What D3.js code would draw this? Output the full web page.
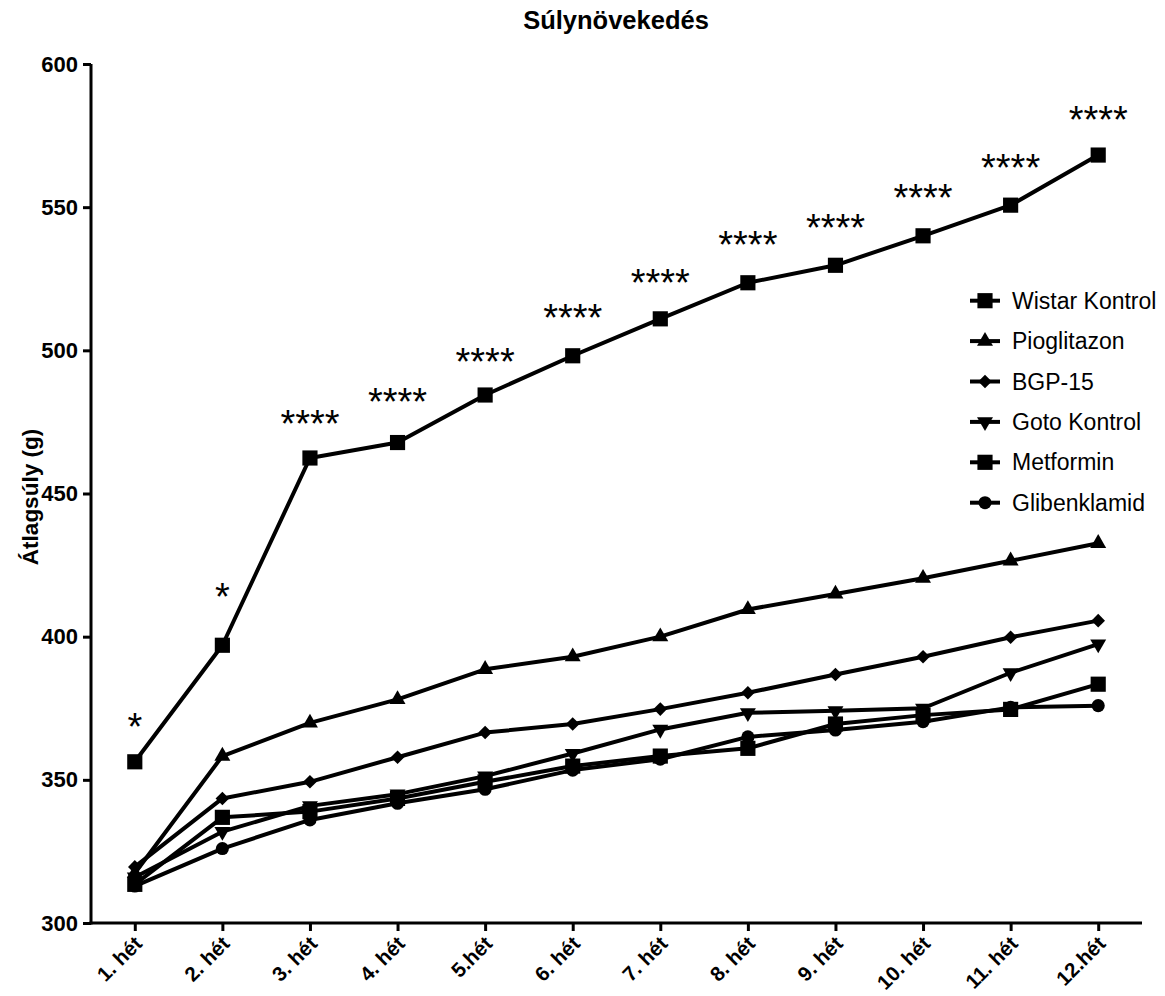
<!DOCTYPE html>
<html>
<head>
<meta charset="utf-8">
<script src="https://cdn.jsdelivr.net/npm/d3@7"></script>
<style>
  html, body { margin: 0; padding: 0; background: #fff; }
  svg { display: block; font-family: "Liberation Sans", Arial, sans-serif; }
</style>
</head>
<body>
<svg id="chart" width="1165" height="996"></svg>
<script>
// ---- data ----
const weeks = ["1. hét","2. hét","3. hét","4. hét","5.hét","6. hét","7. hét","8. hét","9. hét","10. hét","11. hét","12.hét"];
const seriesNames = ["Wistar Kontrol","Pioglitazon","BGP-15","Goto Kontrol","Metformin","Glibenklamid"];
const wistarKontrol = [356.3, 397, 462.4, 467.8, 484.4, 498.1, 511, 523.6, 529.7, 540, 550.7, 568.2];
const pioglitazon   = [317.4, 358.3, 369.9, 378.1, 388.6, 393, 400, 409.5, 414.9, 420.4, 426.5, 432.6];
const bgp15         = [319.6, 343.5, 349.3, 357.9, 366.5, 369.5, 374.7, 380.4, 386.8, 393, 399.8, 405.6];
const gotoKontrol   = [316, 331.9, 340.9, 345, 351.3, 359.2, 367.6, 373.4, 374.1, 375, 387.4, 397.4];
const metformin     = [313.5, 336.9, 338.9, 343.5, 349.3, 354.8, 358.3, 361, 369.5, 372.6, 374.6, 383.4];
const glibenklamid  = [312.9, 326, 336, 341.8, 346.7, 353.4, 357.2, 365, 367.4, 370.3, 375.3, 375.9];
const markerTypes   = ["square","triangle","diamond","triangleDown","square","circle"];
const starLabels    = ["*","*","****","****","****","****","****","****","****","****","****","****"];
const starValues    = [370.2, 415.6, 476, 483.7, 497.6, 513, 525.2, 538.5, 544.4, 554.9, 565.4, 582.1];
const yTicks        = [300, 350, 400, 450, 500, 550, 600];
const chartTitle    = "Súlynövekedés";
const yTitle        = "Átlagsúly (g)";

const allSeries = [wistarKontrol, pioglitazon, bgp15, gotoKontrol, metformin, glibenklamid];

// ---- layout ----
const svg = d3.select("#chart");
const mLeft = 91, mRight = 1142, mTop = 64, mBottom = 923;
const x = d3.scalePoint().domain(weeks).range([mLeft, mRight]).padding(0.5);
const y = d3.scaleLinear().domain([300, 600]).range([mBottom, mTop]);

function markerPath(type) {
  switch (type) {
    case "square": return d3.symbol().type(d3.symbolSquare).size(230)();
    case "triangle": return d3.symbol().type(d3.symbolTriangle).size(110)();
    case "triangleDown": return d3.symbol().type(d3.symbolTriangle).size(110)();
    case "diamond": return d3.symbol().type(d3.symbolSquare).size(92)();
    case "circle": return d3.symbol().type(d3.symbolCircle).size(135)();
  }
}
function markerRot(type) {
  if (type === "triangleDown") return 180;
  if (type === "diamond") return 45;
  return 0;
}

// ---- title ----
svg.append("text")
  .attr("x", 616).attr("y", 29)
  .attr("text-anchor", "middle")
  .attr("font-size", 25.5).attr("font-weight", "bold")
  .text(chartTitle);

// ---- axes ----
const yAxis = svg.append("g")
  .attr("transform", `translate(${mLeft},0)`)
  .call(d3.axisLeft(y).tickValues(yTicks).tickSize(8).tickSizeOuter(0).tickPadding(5));
const xAxis = svg.append("g")
  .attr("transform", `translate(0,${mBottom})`)
  .call(d3.axisBottom(x).tickSize(8).tickSizeOuter(0));

[yAxis, xAxis].forEach(g => {
  g.select(".domain").attr("stroke", "#000").attr("stroke-width", 3);
  g.selectAll(".tick line").attr("stroke", "#000").attr("stroke-width", 3);
});
yAxis.select(".domain").attr("d", `M0,${mTop}V${mBottom + 1.5}`);
xAxis.select(".domain").attr("d", `M${mLeft - 1.5},0H${mRight}`);

yAxis.selectAll(".tick text")
  .attr("font-size", 22).attr("font-weight", "bold")
  .attr("font-family", "Liberation Sans, Arial, sans-serif")
  .attr("fill", "#000");

xAxis.selectAll(".tick text")
  .attr("font-size", 20.5).attr("font-weight", "bold")
  .attr("font-family", "Liberation Sans, Arial, sans-serif")
  .attr("fill", "#000")
  .attr("text-anchor", "end")
  .attr("dy", null)
  .attr("y", 0)
  .attr("transform", "translate(8,22) rotate(-45)");

// y title
svg.append("text")
  .attr("transform", `translate(38,497) rotate(-90)`)
  .attr("text-anchor", "middle")
  .attr("font-size", 22.5).attr("font-weight", "bold")
  .text(yTitle);

// ---- lines + markers ----
const line = d3.line().x((d, i) => x(weeks[i])).y(d => y(d));
allSeries.forEach((vals, si) => {
  const g = svg.append("g");
  g.append("path")
    .attr("d", line(vals))
    .attr("fill", "none")
    .attr("stroke", "#000")
    .attr("stroke-width", 4)
    .attr("stroke-linejoin", "round");
  g.selectAll("path.m").data(vals).join("path")
    .attr("class", "m")
    .attr("d", markerPath(markerTypes[si]))
    .attr("transform", (d, i) => `translate(${x(weeks[i])},${y(d)}) rotate(${markerRot(markerTypes[si])})`)
    .attr("fill", "#000");
});

// ---- significance stars ----
svg.append("g").selectAll("text").data(starLabels).join("text")
  .attr("x", (d, i) => x(weeks[i]))
  .attr("y", (d, i) => y(starValues[i]) + 18)
  .attr("text-anchor", "middle")
  .attr("font-size", 38)
  .text(d => d);

// ---- legend ----
const legend = svg.append("g");
seriesNames.forEach((name, i) => {
  const ly = 300.7 + i * 40.4;
  legend.append("line")
    .attr("x1", 970).attr("x2", 1000).attr("y1", ly).attr("y2", ly)
    .attr("stroke", "#000").attr("stroke-width", 4);
  legend.append("path")
    .attr("d", markerPath(markerTypes[i]))
    .attr("transform", `translate(985,${ly}) rotate(${markerRot(markerTypes[i])})`)
    .attr("fill", "#000");
  legend.append("text")
    .attr("x", 1012).attr("y", ly + 8)
    .attr("font-size", 23)
    .text(name);
});
</script>
</body>
</html>
